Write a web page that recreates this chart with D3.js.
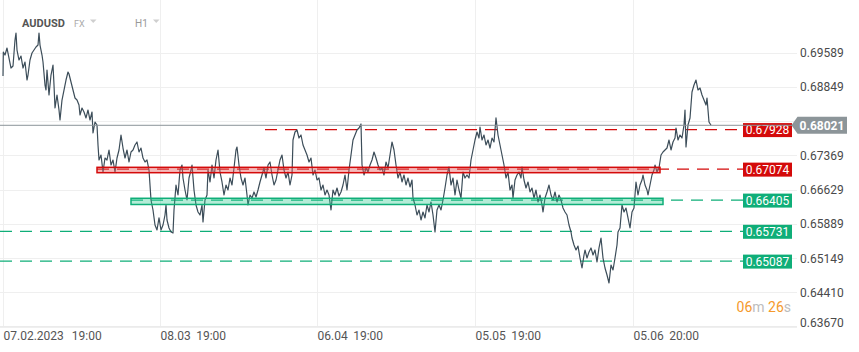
<!DOCTYPE html>
<html><head><meta charset="utf-8">
<script src="https://cdn.jsdelivr.net/npm/d3@7/dist/d3.min.js"></script>
<style>
html,body{margin:0;padding:0;background:#fff;}
svg{display:block;font-family:Roboto,"Noto Sans",sans-serif;}
</style></head>
<body>
<svg id="chart" width="859" height="352"></svg>
<script>
// ---------- data ----------
const symbol = "AUDUSD";
const market = "FX";
const interval = "H1";
const yTickValues = [0.69589, 0.68849, 0.68109, 0.67369, 0.66629, 0.65889, 0.65149, 0.64410, 0.63670];
const xTickBars = [0, 471, 942, 1416, 1890];
const xTickDates = ["07.02.2023", "08.03", "06.04", "05.05", "05.06"];
const xTickTimes = ["19:00", "19:00", "19:00", "19:00", "20:00"];
const lastPrice = 0.68021;
const resistanceLevels = [0.67928, 0.67074];
const resistanceStartBars = [786, 282];
const supportLevels = [0.66405, 0.65731, 0.65087];
const supportStartBars = [384, -9, -9];
const resistanceZone = {from: 282, to: 1971, hi: 0.67113, lo: 0.66997};
const supportZone = {from: 384, to: 1980, hi: 0.66444, lo: 0.66310};
const countdown = ["06", "m ", "26", "s"];
// [bar index (hourly), price]
const priceSeries = [
[0,0.69085],[1,0.69604],[6,0.69539],[12,0.69690],[18,0.69474],[24,0.69258],[30,0.69301],[36,0.69863],[39,0.70014],[42,0.69647],
[48,0.69431],[54,0.69517],[60,0.69258],[66,0.69388],[72,0.68999],[75,0.69107],[81,0.69431],[87,0.69582],[93,0.69647],[99,0.69712],
[105,0.69755],[108,0.70014],[111,0.69755],[117,0.69539],[120,0.69388],[126,0.68891],[129,0.68783],[132,0.69215],[138,0.68675],[144,0.69107],
[150,0.69323],[153,0.68891],[156,0.68394],[162,0.68675],[168,0.68351],[171,0.68135],[177,0.68567],[183,0.68783],[189,0.68999],[195,0.69172],
[198,0.69129],[204,0.68956],[210,0.68783],[216,0.68610],[222,0.68567],[228,0.68459],[231,0.68243],[237,0.68394],[243,0.68308],[249,0.68179],
[255,0.68351],[261,0.68135],[267,0.68308],[270,0.67854],[276,0.68092],[282,0.68027],[285,0.67595],[288,0.67271],[294,0.67379],[300,0.67012],
[306,0.67314],[312,0.67271],[318,0.67487],[324,0.67163],[330,0.67271],[336,0.67012],[342,0.67314],[348,0.67487],[354,0.67811],[360,0.67530],
[366,0.67314],[372,0.67487],[378,0.67228],[384,0.67444],[390,0.67487],[396,0.67595],[402,0.67660],[408,0.67444],[414,0.67530],[420,0.67314],
[426,0.67228],[432,0.67271],[438,0.67055],[441,0.66731],[444,0.66407],[450,0.66191],[456,0.65867],[462,0.65759],[468,0.66019],[474,0.65759],
[480,0.65867],[486,0.66083],[489,0.66299],[492,0.65975],[498,0.65802],[504,0.65716],[510,0.65694],[513,0.66191],[519,0.66731],[525,0.66515],
[531,0.67055],[537,0.67163],[540,0.66882],[546,0.66623],[552,0.66407],[558,0.66882],[564,0.67055],[567,0.67163],[573,0.66623],[579,0.66299],
[585,0.66148],[591,0.66083],[597,0.66299],[600,0.65932],[606,0.66407],[612,0.66515],[615,0.67055],[621,0.66796],[627,0.67163],[633,0.66882],
[639,0.67271],[645,0.67487],[651,0.67012],[657,0.66796],[663,0.66515],[669,0.66731],[675,0.66623],[681,0.66882],[687,0.66731],[693,0.67098],
[699,0.67487],[702,0.67552],[708,0.67163],[714,0.66882],[720,0.66731],[726,0.66882],[732,0.66515],[735,0.66299],[741,0.66515],[747,0.66450],
[753,0.66580],[759,0.66472],[765,0.66623],[771,0.66796],[777,0.66947],[783,0.67098],[789,0.66882],[795,0.67163],[801,0.67228],[807,0.66947],
[813,0.66731],[819,0.66839],[825,0.67055],[831,0.67271],[837,0.67379],[843,0.67055],[849,0.66882],[855,0.67012],[861,0.66731],[867,0.66947],
[870,0.67703],[876,0.67876],[882,0.67919],[888,0.67746],[894,0.67811],[900,0.67595],[906,0.67487],[912,0.67379],[918,0.67228],[924,0.67314],
[930,0.66947],[936,0.67055],[942,0.66839],[948,0.66882],[954,0.66623],[960,0.66731],[966,0.66515],[972,0.66623],[978,0.66515],[984,0.66191],
[990,0.66623],[996,0.66515],[1002,0.66666],[1008,0.66493],[1014,0.66580],[1020,0.66731],[1026,0.66947],[1032,0.66623],[1038,0.67055],[1044,0.67379],
[1050,0.67703],[1056,0.67811],[1062,0.67919],[1068,0.67962],[1074,0.68049],[1077,0.67163],[1083,0.66947],[1089,0.67098],[1095,0.67012],[1101,0.67163],
[1107,0.67271],[1113,0.67444],[1119,0.67314],[1125,0.67163],[1131,0.67055],[1137,0.67098],[1143,0.66947],[1149,0.67228],[1155,0.67098],[1161,0.67379],
[1167,0.67660],[1173,0.67487],[1179,0.67163],[1185,0.66882],[1191,0.67012],[1197,0.66796],[1203,0.66947],[1209,0.66731],[1215,0.66882],[1221,0.66688],
[1227,0.66839],[1230,0.66450],[1236,0.66299],[1242,0.66083],[1248,0.66191],[1254,0.65975],[1260,0.66148],[1266,0.66019],[1272,0.66299],[1278,0.66148],
[1284,0.66364],[1290,0.66083],[1296,0.65716],[1302,0.66191],[1308,0.66299],[1314,0.66191],[1320,0.66407],[1326,0.66666],[1332,0.66947],[1338,0.67120],
[1344,0.66731],[1350,0.66882],[1356,0.66515],[1362,0.66839],[1368,0.66623],[1374,0.66450],[1380,0.67012],[1386,0.66882],[1392,0.66947],[1398,0.66882],
[1404,0.67271],[1410,0.67487],[1416,0.67703],[1422,0.67876],[1428,0.67746],[1431,0.67984],[1437,0.67703],[1443,0.67811],[1449,0.67595],[1455,0.67703],
[1461,0.67530],[1467,0.67746],[1473,0.67660],[1479,0.68179],[1485,0.67811],[1491,0.67595],[1497,0.67379],[1503,0.67163],[1509,0.66882],[1515,0.67012],
[1521,0.66623],[1527,0.66731],[1530,0.66450],[1536,0.66839],[1542,0.66947],[1548,0.67012],[1554,0.66882],[1557,0.67120],[1563,0.66839],[1569,0.66666],
[1575,0.66796],[1581,0.66580],[1587,0.66666],[1593,0.66450],[1599,0.66623],[1605,0.66364],[1611,0.66515],[1617,0.66299],[1620,0.66148],[1626,0.66450],
[1632,0.66580],[1638,0.66731],[1644,0.66515],[1650,0.66407],[1656,0.66580],[1662,0.66364],[1668,0.66515],[1674,0.66407],[1680,0.66234],[1686,0.66148],
[1692,0.66083],[1698,0.65867],[1704,0.65716],[1707,0.65586],[1713,0.65435],[1719,0.65327],[1725,0.65413],[1731,0.65154],[1737,0.64938],[1743,0.65219],
[1746,0.65327],[1752,0.65154],[1758,0.65284],[1764,0.65371],[1770,0.65219],[1776,0.65327],[1782,0.65068],[1788,0.65371],[1794,0.65586],[1800,0.65154],
[1806,0.64938],[1812,0.64787],[1818,0.64614],[1824,0.65003],[1830,0.64895],[1836,0.65154],[1842,0.65435],[1845,0.65716],[1851,0.65802],[1857,0.66299],
[1863,0.66148],[1869,0.66234],[1875,0.66019],[1881,0.65802],[1887,0.66148],[1893,0.66234],[1899,0.66796],[1905,0.66515],[1911,0.66731],[1917,0.66839],
[1920,0.66947],[1926,0.66731],[1932,0.66623],[1935,0.66515],[1941,0.66731],[1947,0.66947],[1953,0.67055],[1956,0.67163],[1962,0.67012],[1968,0.67098],
[1974,0.67379],[1980,0.67444],[1986,0.67487],[1992,0.67530],[1998,0.67703],[2004,0.67487],[2010,0.67660],[2016,0.67746],[2019,0.67962],[2025,0.67703],
[2031,0.67811],[2037,0.67746],[2043,0.68027],[2046,0.68351],[2049,0.67552],[2055,0.68027],[2061,0.68179],[2067,0.68740],[2073,0.68891],[2079,0.68999],
[2085,0.68783],[2091,0.68826],[2097,0.68675],[2103,0.68567],[2109,0.68459],[2112,0.68610],[2118,0.68092],[2124,0.68021]
];

// ---------- layout ----------
const svg = d3.select("#chart");
const plotRight = 797, axisY = 326;
const x = d3.scaleLinear().domain([0, 2382]).range([3, plotRight]);
const y = d3.scaleLinear().domain([0.63670, 0.69589]).range([326.7, 52.7]);
const RED = "#d40a0a", GREEN = "#0fae78", GRID = "#efefef";
const labelX = 743, labelW = 49, labelH = 14;

// grid
const grid = svg.append("g");
grid.selectAll("line.h").data(yTickValues).join("line")
  .attr("x1", 0).attr("x2", plotRight)
  .attr("y1", d => Math.round(y(d)) + 0.5).attr("y2", d => Math.round(y(d)) + 0.5)
  .attr("stroke", GRID);
grid.selectAll("line.v").data(xTickBars).join("line")
  .attr("x1", d => Math.round(x(d)) + 0.5).attr("x2", d => Math.round(x(d)) + 0.5)
  .attr("y1", 0).attr("y2", axisY)
  .attr("stroke", GRID);
grid.append("line").attr("x1", 0).attr("x2", plotRight).attr("y1", axisY + 0.5).attr("y2", axisY + 0.5).attr("stroke", "#ebebeb");

// y axis tick labels
svg.append("g").selectAll("text").data(yTickValues).join("text")
  .attr("x", 800).attr("y", d => Math.min(y(d), 322.7)).attr("dy", "0.36em")
  .attr("font-size", 12).attr("fill", "#4a4a4a")
  .text(d => d.toFixed(5));

// x axis tick labels
const xl = svg.append("g").selectAll("text").data(xTickBars).join("text")
  .attr("x", d => x(d) + 0.5).attr("y", 340)
  .attr("font-size", 12).attr("fill", "#555");
xl.append("tspan").text((d, i) => xTickDates[i]);
xl.append("tspan").attr("dx", (d, i) => i === 0 ? 8 : 5.5).text((d, i) => xTickTimes[i]);

// header
const hdr = svg.append("g");
hdr.append("text").attr("x", 22).attr("y", 27).attr("font-size", 11).attr("font-weight", "bold").attr("fill", "#555").text(symbol);
hdr.append("text").attr("x", 74).attr("y", 27).attr("font-size", 9).attr("fill", "#aaa").text(market);
hdr.append("path").attr("d", "M90,19.5 L96.5,19.5 L93.25,23 Z").attr("fill", "#cfcfcf");
hdr.append("text").attr("x", 135).attr("y", 27).attr("font-size", 10).attr("fill", "#999").text(interval);
hdr.append("path").attr("d", "M153,19.5 L159.5,19.5 L156.25,23 Z").attr("fill", "#cfcfcf");

// levels (drawn beneath the zones)
function levelLine(p, start, color) {
  svg.append("line")
    .attr("x1", x(start)).attr("x2", labelX)
    .attr("y1", y(p)).attr("y2", y(p))
    .attr("stroke", color).attr("stroke-width", 1.3).attr("stroke-dasharray", "12,8");
}
function levelTag(p, color) {
  svg.append("rect").attr("x", labelX).attr("y", y(p) - labelH / 2 + 0.5)
    .attr("width", labelW).attr("height", labelH).attr("fill", color);
  svg.append("text").attr("x", labelX + labelW / 2).attr("y", y(p) + 0.5).attr("dy", "0.36em")
    .attr("text-anchor", "middle").attr("font-size", 12).attr("fill", "#fff")
    .text(p.toFixed(5));
}
resistanceLevels.forEach((p, i) => levelLine(p, resistanceStartBars[i], RED));
supportLevels.forEach((p, i) => levelLine(p, supportStartBars[i], GREEN));

// price line
const line = d3.line().x(d => x(d[0])).y(d => y(d[1]));
svg.append("path").datum(priceSeries).attr("d", line)
  .attr("fill", "none").attr("stroke", "#3c4d59").attr("stroke-width", 1.2).attr("stroke-linejoin", "round");

// zones
function zone(z, fill, stroke) {
  svg.append("rect")
    .attr("x", x(z.from)).attr("y", y(z.hi))
    .attr("width", x(z.to) - x(z.from)).attr("height", y(z.lo) - y(z.hi))
    .attr("fill", fill).attr("stroke", stroke).attr("stroke-width", 1.5);
}
zone(resistanceZone, "rgba(232,90,90,0.42)", RED);
zone(supportZone, "rgba(40,200,140,0.35)", GREEN);

resistanceLevels.forEach(p => levelTag(p, RED));
supportLevels.forEach(p => levelTag(p, GREEN));

// last price line + tag
const ly = y(lastPrice);
svg.append("line").attr("x1", 0).attr("x2", 792).attr("y1", ly).attr("y2", ly)
  .attr("stroke", "#8a9398").attr("stroke-width", 1);
svg.append("path")
  .attr("d", `M791.5,${ly} L797.5,${ly - 8.5} L847,${ly - 8.5} L847,${ly + 8.5} L797.5,${ly + 8.5} Z`)
  .attr("fill", "#8c9599");
svg.append("text").attr("x", 822).attr("y", ly).attr("dy", "0.36em").attr("text-anchor", "middle")
  .attr("font-size", 12).attr("font-weight", "bold").attr("fill", "#fff").text(lastPrice.toFixed(5));

// countdown
const cd = svg.append("text").attr("x", 791).attr("y", 312).attr("text-anchor", "end").attr("font-size", 14);
countdown.forEach((s, i) => cd.append("tspan").attr("fill", i % 2 === 0 ? "#f59a2c" : "#bdbdbd").text(s));
</script>
</body></html>
